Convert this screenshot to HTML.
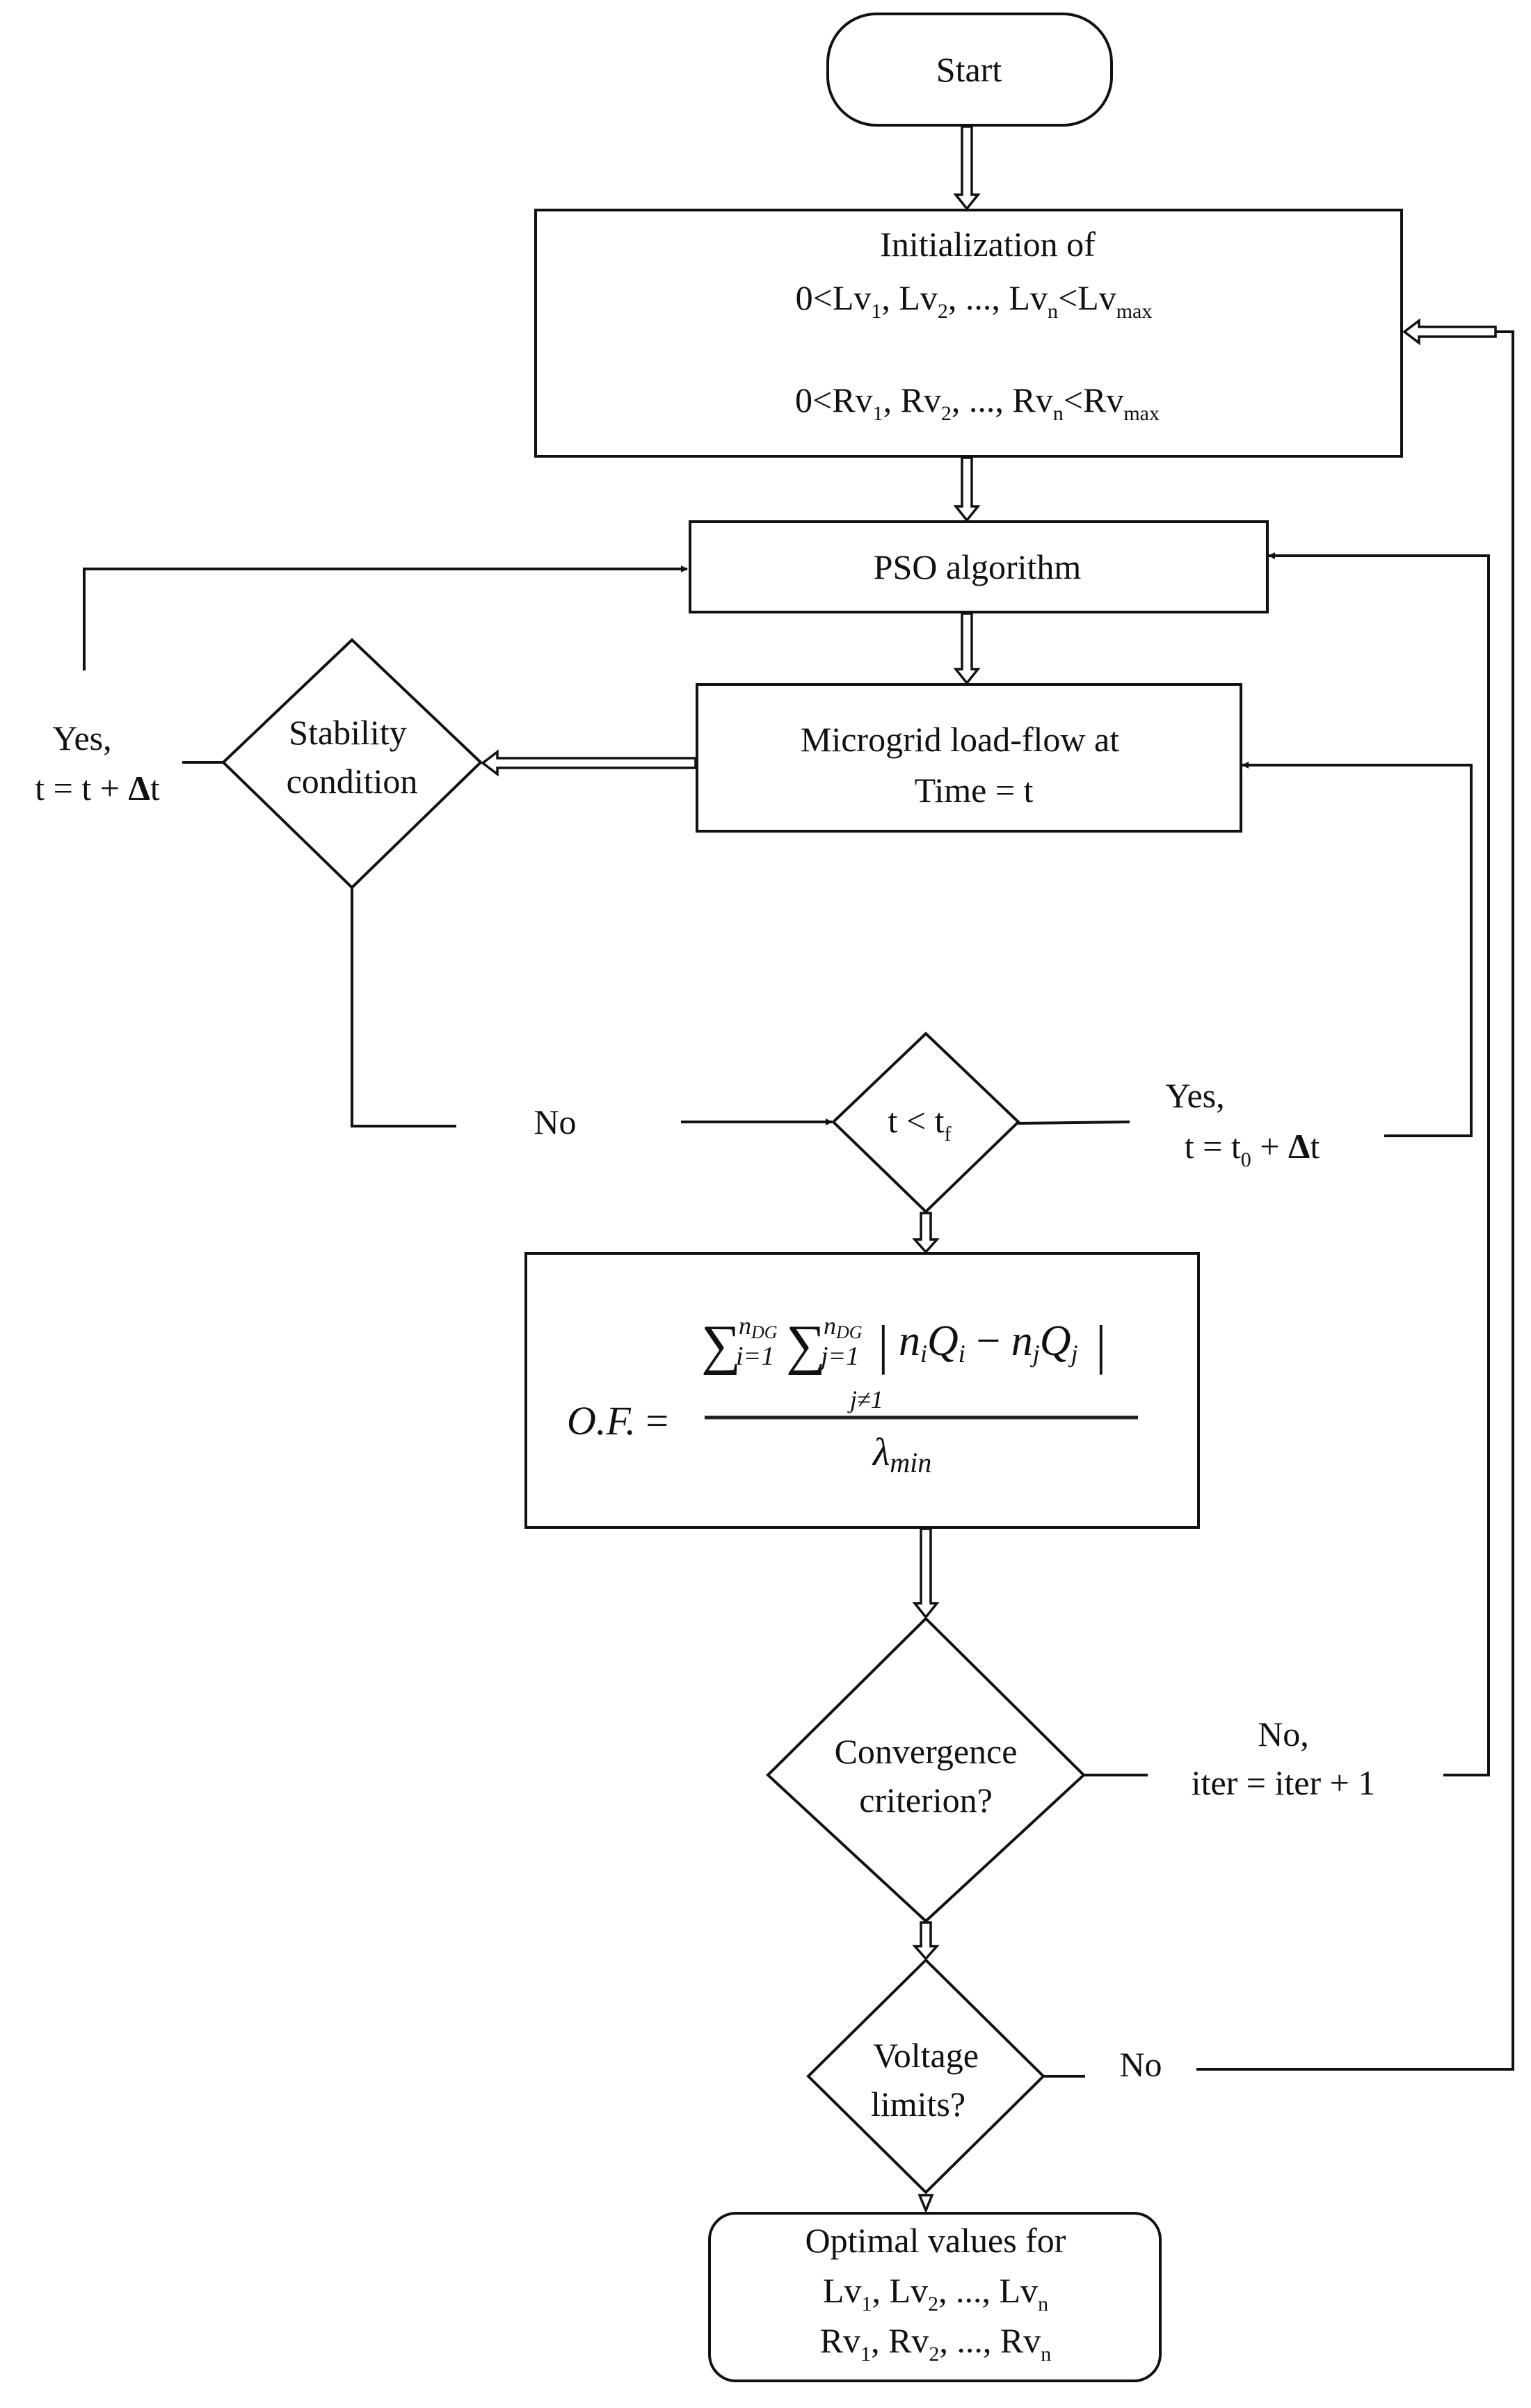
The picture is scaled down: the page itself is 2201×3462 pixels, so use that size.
<!DOCTYPE html>
<html><head><meta charset="utf-8"><style>
html,body{margin:0;padding:0;background:#fff}
svg{display:block}
text{font-family:"Liberation Serif",serif;fill:#111}
</style></head><body>
<svg width="2201" height="3462" viewBox="0 0 2201 3462" xmlns="http://www.w3.org/2000/svg">
<defs>
<marker id="ah" markerWidth="10" markerHeight="10" refX="9" refY="5" orient="auto" markerUnits="userSpaceOnUse" viewBox="0 0 10 10">
<path d="M0,0 L10,5 L0,10 z" fill="#111"/>
</marker>
</defs>
<g fill="none" stroke="#111" stroke-width="4">
<rect x="1190" y="20" width="408" height="160" rx="70" ry="70"/>
<rect x="770" y="302" width="1245" height="354"/>
<rect x="992" y="750" width="830" height="130"/>
<rect x="1002" y="984" width="782" height="211"/>
<polygon points="506,920 691,1096 506,1276 321,1096"/>
<polygon points="1331,1486 1464,1613 1331,1742 1198,1613"/>
<rect x="756" y="1802" width="967" height="394"/>
<polygon points="1331,2327 1558,2552 1331,2762 1104,2552"/>
<polygon points="1331,2818 1500,2985 1331,3152 1162,2985"/>
<rect x="1020" y="3182" width="648" height="241" rx="38" ry="38"/>
</g>
<g fill="#fff" stroke="#111" stroke-width="3.5">
<polygon points="1383,182 1397,182 1397,280 1406,280 1390,300 1374,280 1383,280"/>
<polygon points="1383,658 1397,658 1397,728 1406,728 1390,748 1374,728 1383,728"/>
<polygon points="1383,882 1397,882 1397,962 1406,962 1390,982 1374,962 1383,962"/>
<polygon points="1000,1090 1000,1104 715,1104 715,1113 694,1097 715,1081 715,1090"/>
<polygon points="1324,1744 1338,1744 1338,1782 1347,1782 1331,1800 1315,1782 1324,1782"/>
<polygon points="1324,2198 1338,2198 1338,2305 1347,2305 1331,2325 1315,2305 1324,2305"/>
<polygon points="1324,2764 1338,2764 1338,2798 1347,2798 1331,2816 1315,2798 1324,2798"/>
<polygon points="2150,470 2150,484 2040,484 2040,493 2019,477 2040,461 2040,470"/>
<polygon points="1322,3156 1340,3156 1331,3178"/>
</g>
<g fill="none" stroke="#111" stroke-width="4">
<polyline points="121,964 121,818 988,818" marker-end="url(#ah)"/>
<line x1="321" y1="1096" x2="262" y2="1096"/>
<polyline points="506,1276 506,1619 656,1619"/>
<line x1="979" y1="1613" x2="1196" y2="1613" marker-end="url(#ah)"/>
<line x1="1464" y1="1615" x2="1624" y2="1613"/>
<polyline points="1990,1633 2115,1633 2115,1100 1786,1100" marker-end="url(#ah)"/>
<line x1="1558" y1="2552" x2="1650" y2="2552"/>
<polyline points="2075,2552 2140,2552 2140,799 1824,799" marker-end="url(#ah)"/>
<line x1="1500" y1="2985" x2="1560" y2="2985"/>
<polyline points="1720,2975 2175,2975 2175,477 2150,477"/>
</g>
<g font-size="50" text-anchor="middle">
<text x="1393" y="117">Start</text>
<text x="1420" y="368">Initialization of</text>
<text x="1400" y="445">0&lt;Lv<tspan font-size="30" dy="12">1</tspan><tspan dy="-12">, Lv</tspan><tspan font-size="30" dy="12">2</tspan><tspan dy="-12">, ..., Lv</tspan><tspan font-size="30" dy="12">n</tspan><tspan dy="-12">&lt;Lv</tspan><tspan font-size="30" dy="12">max</tspan></text>
<text x="1405" y="592">0&lt;Rv<tspan font-size="30" dy="12">1</tspan><tspan dy="-12">, Rv</tspan><tspan font-size="30" dy="12">2</tspan><tspan dy="-12">, ..., Rv</tspan><tspan font-size="30" dy="12">n</tspan><tspan dy="-12">&lt;Rv</tspan><tspan font-size="30" dy="12">max</tspan></text>
<text x="1405" y="832">PSO algorithm</text>
<text x="1380" y="1080">Microgrid load-flow at</text>
<text x="1400" y="1153">Time = t</text>
<text x="500" y="1070">Stability</text>
<text x="506" y="1140">condition</text>
<text x="118" y="1078">Yes,</text>
<text x="140" y="1150">t = t + <tspan font-weight="bold">Δ</tspan>t</text>
<text x="798" y="1630">No</text>
<text x="1322" y="1628">t &lt; t<tspan font-size="30" dy="12">f</tspan></text>
<text x="1718" y="1592">Yes,</text>
<text x="1800" y="1665">t = t<tspan font-size="30" dy="12">0</tspan><tspan dy="-12"> + </tspan><tspan font-weight="bold">Δ</tspan>t</text>
<text x="1331" y="2535">Convergence</text>
<text x="1331" y="2605">criterion?</text>
<text x="1845" y="2510">No,</text>
<text x="1845" y="2580">iter = iter + 1</text>
<text x="1331" y="2972">Voltage</text>
<text x="1320" y="3042">limits?</text>
<text x="1640" y="2985">No</text>
<text x="1345" y="3238">Optimal values for</text>
<text x="1345" y="3310">Lv<tspan font-size="30" dy="12">1</tspan><tspan dy="-12">, Lv</tspan><tspan font-size="30" dy="12">2</tspan><tspan dy="-12">, ..., Lv</tspan><tspan font-size="30" dy="12">n</tspan></text>
<text x="1345" y="3382">Rv<tspan font-size="30" dy="12">1</tspan><tspan dy="-12">, Rv</tspan><tspan font-size="30" dy="12">2</tspan><tspan dy="-12">, ..., Rv</tspan><tspan font-size="30" dy="12">n</tspan></text>
</g>
<g font-style="italic">
<text x="1008" y="1960" font-size="80" font-style="normal" font-family="DejaVu Serif">∑</text>
<text x="1062" y="1918" font-size="36">n<tspan font-size="26" dy="6">DG</tspan></text>
<text x="1058" y="1962" font-size="38">i=1</text>
<text x="1130" y="1960" font-size="80" font-style="normal" font-family="DejaVu Serif">∑</text>
<text x="1184" y="1918" font-size="36">n<tspan font-size="26" dy="6">DG</tspan></text>
<text x="1180" y="1962" font-size="38">j=1</text>
<text x="1262" y="1960" font-size="78" font-style="normal">|</text>
<text x="1292" y="1948" font-size="62">n<tspan font-size="36" dy="10">i</tspan><tspan dy="-10">Q</tspan><tspan font-size="36" dy="10">i</tspan><tspan dy="-10" font-style="normal"> − </tspan>n<tspan font-size="36" dy="10">j</tspan><tspan dy="-10">Q</tspan><tspan font-size="36" dy="10">j</tspan></text>
<text x="1575" y="1960" font-size="78" font-style="normal">|</text>
<text x="1222" y="2024" font-size="36">j≠1</text>
<text x="815" y="2062" font-size="58">O.F.<tspan font-style="normal"> =</tspan></text>
<text x="1255" y="2106" font-size="56">λ<tspan font-size="40" dy="10">min</tspan></text>
</g>
<line x1="1013" y1="2038" x2="1636" y2="2038" stroke="#222" stroke-width="5"/>
</svg>
</body></html>
